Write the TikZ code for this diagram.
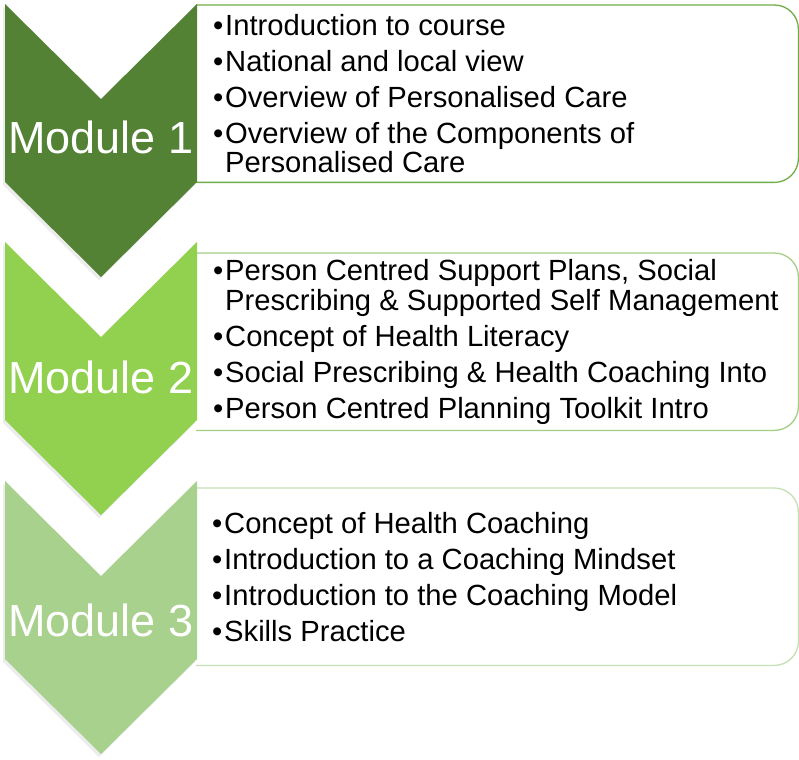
\documentclass[tikz,border=0pt]{standalone}
\usepackage{fontspec}
\setmainfont{Liberation Sans}
\usepackage{xcolor}
\usetikzlibrary{shadows}

\definecolor{modA}{HTML}{548235}
\definecolor{modB}{HTML}{92D050}
\definecolor{modC}{HTML}{A9D18E}
\definecolor{lineA}{HTML}{70AD47}
\definecolor{lineB}{HTML}{A3CF85}
\definecolor{lineC}{HTML}{C5E0B4}

\newcommand{\bul}{\makebox[12pt][l]{\textbullet}}
\newcommand{\cont}{\hspace*{12pt}}

\tikzset{
  chev/.style={drop shadow={shadow xshift=-2pt, shadow yshift=-3pt, opacity=0.15, fill=black!50}},
  modlabel/.style={text=white, anchor=base, inner sep=0pt, font=\fontsize{45}{50}\selectfont},
  box/.style={inner sep=0pt, minimum width=602pt, minimum height=177pt, anchor=north west},
  boxline/.style={draw=#1, line width=1.3pt, fill=white},
  items/.style={anchor=west, align=left, inner sep=0pt, font=\fontsize{29.2}{29.5}\selectfont}
}

\begin{document}
\begin{tikzpicture}[x=1pt,y=-1pt]
\useasboundingbox (0,0) rectangle (799,759);
% text boxes
\foreach \t/\c/\n in {5/lineA/b1,253/lineB/b2,488/lineC/b3}{
  \node[box] (\n) at (196,\t) {};
  \filldraw[boxline=\c] (\n.north west) [rounded corners=24pt] -- (\n.north east) -- (\n.south east) -- (\n.south west);
}
% chevrons
\foreach \t/\c in {4/modA,242/modB,481/modC}
  \fill[\c, chev] (5,\t) -- (101,\t+95) -- (197,\t) -- (197,\t+178) -- (101,\t+273) -- (5,\t+178) -- cycle;
% module names
\node[modlabel] (m1) at (101,154) {Module 1};
\node[modlabel] (m2) at (101,393) {Module 2};
\node[modlabel] (m3) at (101,636) {Module 3};
% topics
\node[items] (t1) at ([xshift=17pt]b1.west) {\bul Introduction to course\\[6.5pt]
  \bul National and local view\\[6.5pt]
  \bul Overview of Personalised Care\\[6.5pt]
  \bul Overview of the Components of\\
  \cont Personalised Care};
\node[items] (t2) at ([xshift=17pt]b2.west) {\bul Person Centred Support Plans, Social\\
  \cont Prescribing \& Supported Self Management\\[6.5pt]
  \bul Concept of Health Literacy\\[6.5pt]
  \bul Social Prescribing \& Health Coaching Into\\[6.5pt]
  \bul Person Centred Planning Toolkit Intro};
\node[items] (t3) at ([xshift=16pt]b3.west) {\bul Concept of Health Coaching\\[6.5pt]
  \bul Introduction to a Coaching Mindset\\[6.5pt]
  \bul Introduction to the Coaching Model\\[6.5pt]
  \bul Skills Practice};
\end{tikzpicture}
\end{document}
